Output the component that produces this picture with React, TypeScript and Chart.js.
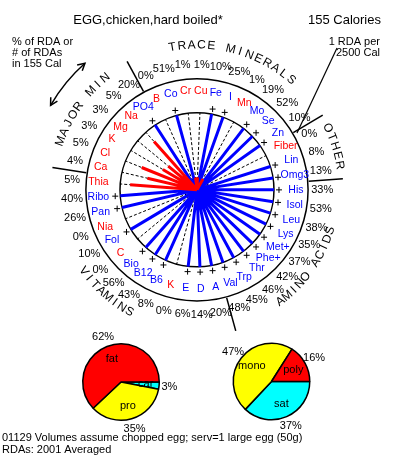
import React, { useEffect, useRef } from 'react';
import { Chart, registerables } from 'chart.js';

Chart.register(...registerables);

// ---------------- data ----------------
const title = 'EGG,chicken,hard boiled*';
const calories = 155;
const rdaCalories = 2500;

// clockwise from 3 o'clock
const nutrientNames = [
  'His', 'Isol', 'Leu', 'Lys', 'Met+', 'Phe+', 'Thr', 'Trp', 'Val',
  'A', 'D', 'E', 'K', 'B6', 'B12', 'Bio', 'C', 'Fol', 'Nia', 'Pan', 'Ribo', 'Thia',
  'Ca', 'Cl', 'K', 'Mg', 'Na', 'PO4',
  'B', 'Co', 'Cr', 'Cu', 'Fe', 'I', 'Mn', 'Mo', 'Se', 'Zn',
  'Fiber', 'Lin', 'Omg3',
];
const nutrientPercents = [
  33, 53, 38, 35, 37, 42, 46, 45, 48,
  20, 14, 6.3, 0, 8, 43, 56, 0, 10, 0, 26, 40, 5.4,
  4.1, 4.8, 3.2, 3, 5.2, 20,
  0, 51, 1, 1, 10, 25, 1, 19, 52, 10,
  0, 8, 13,
];
const sectionNames = ['AMINO ACIDS', 'VITAMINS', 'MAJOR MIN', 'TRACE MINERALS', 'OTHER'];
const sectionCounts = [9, 13, 6, 10, 3];

// pies, clockwise from 3 o'clock
const macroLabels = ['car', 'pro', 'fat'];
const macroPercents = [3, 35, 62];
const fatLabels = ['sat', 'mono', 'poly'];
const fatPercents = [37, 47, 16];

const scaleNoteLines = ['% of RDA or', '# of RDAs', 'in 155 Cal'];
const rdaNoteLines = ['1 RDA per', '2500 Cal'];
const footerLines = ['01129 Volumes assume chopped egg; serv=1 large egg (50g)', 'RDAs: 2001 Averaged'];

// ---------------- layout ----------------
const W = 393;
const H = 457;
const CX = 197;
const CY = 189;
const UNIT = 79; // px per RDA-circle radius
const R_TICK = 1.065;
const R_NAME = 1.285;
const R_OUTER = 1.443;
const R_PCT = 1.627;
const R_BOUND_IN = 1.455;
const R_BOUND_OUT = 1.9;
const R_TITLE_TOP = 1.88;
const R_TITLE_BOT = 1.81;
const R_ARROW = 2.196;
const FONT = "'Liberation Sans', Arial, Helvetica, sans-serif";
const RED = '#ff0000';
const BLUE = '#0000ff';

const N = nutrientNames.length;
const threshold = (calories / rdaCalories) * 100;
const ang = (i: number) => (i * 2 * Math.PI) / N;
const pt = (r: number, t: number) => ({ x: r * Math.cos(t), y: -r * Math.sin(t) });
const gap = () => ({ x: NaN, y: NaN });

function buildSpokes() {
  const blue: any[] = [];
  const red: any[] = [];
  const dash: any[] = [];
  const ticks: any[] = [];
  nutrientPercents.forEach((v, i) => {
    const t = ang(i);
    if (v >= threshold) {
      blue.push(pt(0, t), pt(1, t), gap());
      ticks.push(pt(R_TICK, t));
    } else {
      red.push(pt(0, t), pt(v / threshold, t), gap());
      dash.push(pt(0, t), pt(1, t), gap());
    }
  });
  return { blue, red, dash, ticks };
}

function drawArcText(ctx: CanvasRenderingContext2D, text: string, cx: number, cy: number, r: number, phiC: number, stepPx: number, top: boolean) {
  const n = text.length;
  const d = stepPx / r;
  for (let k = 0; k < n; k++) {
    const off = (k - (n - 1) / 2) * d;
    const phi = top ? phiC + off : phiC - off;
    const x = cx + r * Math.sin(phi);
    const y = cy - r * Math.cos(phi);
    ctx.save();
    ctx.translate(x, y);
    ctx.rotate(top ? phi : phi - Math.PI);
    ctx.fillText(text[k], 0, 0);
    ctx.restore();
  }
}

function arrowHead(ctx: CanvasRenderingContext2D, x: number, y: number, dx: number, dy: number) {
  const a = Math.atan2(dy, dx);
  const L = 8;
  const s = 0.5;
  ctx.beginPath();
  ctx.moveTo(x - L * Math.cos(a - s), y - L * Math.sin(a - s));
  ctx.lineTo(x, y);
  ctx.lineTo(x - L * Math.cos(a + s), y - L * Math.sin(a + s));
  ctx.stroke();
}

const radialPlugin = {
  id: 'radialDecor',
  beforeDatasetsDraw(chart: any) {
    const ctx: CanvasRenderingContext2D = chart.ctx;
    const xs = chart.scales.x;
    const ys = chart.scales.y;
    const cx = xs.getPixelForValue(0);
    const cy = ys.getPixelForValue(0);
    const u = xs.getPixelForValue(1) - cx;
    ctx.save();
    ctx.strokeStyle = '#000';
    ctx.lineWidth = 1.5;
    ctx.beginPath();
    ctx.arc(cx, cy, u, 0, Math.PI * 2);
    ctx.stroke();
    ctx.beginPath();
    ctx.arc(cx, cy, u * R_OUTER, 0, Math.PI * 2);
    ctx.stroke();
    // section boundaries
    let cum = 0;
    ctx.lineWidth = 1.5;
    sectionCounts.forEach((c) => {
      cum += c;
      const t = ang(cum - 0.5);
      ctx.beginPath();
      ctx.moveTo(cx + u * R_BOUND_IN * Math.cos(t), cy + u * R_BOUND_IN * Math.sin(t));
      ctx.lineTo(cx + u * R_BOUND_OUT * Math.cos(t), cy + u * R_BOUND_OUT * Math.sin(t));
      ctx.stroke();
    });
    ctx.restore();
  },
  afterDraw(chart: any) {
    const ctx: CanvasRenderingContext2D = chart.ctx;
    const xs = chart.scales.x;
    const ys = chart.scales.y;
    const cx = xs.getPixelForValue(0);
    const cy = ys.getPixelForValue(0);
    const u = xs.getPixelForValue(1) - cx;
    ctx.save();
    ctx.textAlign = 'center';
    ctx.textBaseline = 'middle';
    // names & percents
    nutrientNames.forEach((name, i) => {
      const t = ang(i);
      const v = nutrientPercents[i];
      ctx.font = `10.5px ${FONT}`;
      ctx.fillStyle = v >= threshold ? BLUE : RED;
      ctx.fillText(name, cx + u * R_NAME * Math.cos(t), cy + u * R_NAME * Math.sin(t));
      ctx.font = `11px ${FONT}`;
      ctx.fillStyle = '#000';
      ctx.fillText(`${Math.round(v)}%`, cx + u * R_PCT * Math.cos(t), cy + u * R_PCT * Math.sin(t));
    });
    // section titles
    ctx.font = `12px ${FONT}`;
    ctx.fillStyle = '#000';
    let start = 0;
    sectionNames.forEach((s, k) => {
      const end = start + sectionCounts[k] - 1;
      const theta = ang((start + end) / 2);
      let phi = theta + Math.PI / 2;
      phi = ((phi % (2 * Math.PI)) + 2 * Math.PI) % (2 * Math.PI);
      const bottom = phi > Math.PI / 2 && phi < (3 * Math.PI) / 2;
      if (bottom) drawArcText(ctx, s, cx, cy, u * R_TITLE_BOT, phi, 8.8, false);
      else drawArcText(ctx, s, cx, cy, u * R_TITLE_TOP, phi, 9.8, true);
      start = end + 1;
    });
    // double arrow
    ctx.strokeStyle = '#000';
    ctx.lineWidth = 1.5;
    const a1 = (210 * Math.PI) / 180;
    const a2 = (228.5 * Math.PI) / 180;
    const ra = u * R_ARROW;
    ctx.beginPath();
    ctx.arc(cx, cy, ra, a1, a2);
    ctx.stroke();
    arrowHead(ctx, cx + ra * Math.cos(a2), cy + ra * Math.sin(a2), -Math.sin(a2), Math.cos(a2));
    arrowHead(ctx, cx + ra * Math.cos(a1), cy + ra * Math.sin(a1), Math.sin(a1), -Math.cos(a1));
    // pointer from "1 RDA per 2500 Cal"
    ctx.lineWidth = 1.2;
    ctx.beginPath();
    ctx.moveTo(337, 48);
    ctx.lineTo(297, 133);
    ctx.stroke();
    // header texts
    ctx.font = `13px ${FONT}`;
    ctx.textAlign = 'center';
    ctx.fillText(title, 148, 20);
    ctx.textAlign = 'left';
    ctx.fillText(`${calories} Calories`, 308, 20);
    ctx.font = `11px ${FONT}`;
    scaleNoteLines.forEach((l, i) => ctx.fillText(l, 12, 42 + i * 11));
    ctx.textAlign = 'right';
    rdaNoteLines.forEach((l, i) => ctx.fillText(l, 380, 42 + i * 11));
    ctx.textAlign = 'left';
    footerLines.forEach((l, i) => ctx.fillText(l, 2, 438 + i * 12));
    ctx.restore();
  },
};

const pieLabelPlugin = {
  id: 'pieLabels',
  afterDatasetsDraw(chart: any) {
    const ctx: CanvasRenderingContext2D = chart.ctx;
    const meta = chart.getDatasetMeta(0);
    const labels = chart.data.labels;
    const values = chart.data.datasets[0].data;
    ctx.save();
    ctx.font = `11px ${FONT}`;
    ctx.fillStyle = '#000';
    ctx.textAlign = 'center';
    ctx.textBaseline = 'middle';
    meta.data.forEach((arc: any, i: number) => {
      const { x, y, startAngle, endAngle, outerRadius } = arc.getProps(['x', 'y', 'startAngle', 'endAngle', 'outerRadius'], true);
      const mid = (startAngle + endAngle) / 2;
      ctx.fillText(labels[i], x + Math.cos(mid) * outerRadius * 0.65, y + Math.sin(mid) * outerRadius * 0.65);
      ctx.fillText(`${values[i]}%`, x + Math.cos(mid) * outerRadius * 1.27, y + Math.sin(mid) * outerRadius * 1.27);
    });
    ctx.restore();
  },
};

function RadialChart() {
  const ref = useRef<HTMLCanvasElement>(null);
  useEffect(() => {
    if (!ref.current) return;
    const s = buildSpokes();
    const lineDs = (data: any[], color: string, width: number, order: number, dash: number[] = []) => ({
      data,
      showLine: true,
      borderColor: color,
      borderWidth: width,
      borderDash: dash,
      borderCapStyle: 'butt',
      pointRadius: 0,
      spanGaps: false,
      fill: false,
      order,
    });
    const chart = new Chart(ref.current, {
      type: 'scatter',
      data: {
        datasets: [
          {
            data: s.ticks,
            pointStyle: 'cross',
            pointRadius: 3,
            pointBorderColor: '#000',
            pointBorderWidth: 1,
            borderColor: '#000',
            showLine: false,
            order: 0,
          } as any,
          lineDs(s.red, RED, 3, 1),
          lineDs(s.blue, BLUE, 3, 2),
          lineDs(s.dash, '#000', 1, 3, [3, 2]),
        ],
      },
      options: {
        responsive: false,
        animation: false,
        events: [],
        layout: { padding: 0 },
        scales: {
          x: { type: 'linear', display: false, min: -CX / UNIT, max: (W - CX) / UNIT },
          y: { type: 'linear', display: false, min: -(H - CY) / UNIT, max: CY / UNIT },
        },
        plugins: { legend: { display: false }, tooltip: { enabled: false }, title: { display: false } },
      },
      plugins: [radialPlugin],
    } as any);
    return () => chart.destroy();
  }, []);
  return <canvas ref={ref} width={W} height={H} style={{ position: 'absolute', left: 0, top: 0, width: W, height: H }} />;
}

function PieChart(props: { labels: string[]; values: number[]; colors: string[]; left: number; top: number; padding: any }) {
  const ref = useRef<HTMLCanvasElement>(null);
  useEffect(() => {
    if (!ref.current) return;
    const chart = new Chart(ref.current, {
      type: 'pie',
      data: {
        labels: props.labels,
        datasets: [{ data: props.values, backgroundColor: props.colors, borderColor: '#000', borderWidth: 1.5 }],
      },
      options: {
        responsive: false,
        animation: false,
        events: [],
        rotation: 90,
        layout: { padding: props.padding },
        plugins: { legend: { display: false }, tooltip: { enabled: false } },
      },
      plugins: [pieLabelPlugin],
    } as any);
    return () => chart.destroy();
  }, []);
  return <canvas ref={ref} width={130} height={120} style={{ position: 'absolute', left: props.left, top: props.top, width: 130, height: 120 }} />;
}

export default function App() {
  return (
    <div style={{ position: 'absolute', left: 0, top: 0, width: W, height: H, background: '#fff', overflow: 'hidden' }}>
      <RadialChart />
      <PieChart
        labels={macroLabels}
        values={macroPercents}
        colors={['#00ffff', '#ffff00', '#ff0000']}
        left={56}
        top={322}
        padding={{ left: 26, right: 26, top: 21, bottom: 21 }}
      />
      <PieChart
        labels={fatLabels}
        values={fatPercents}
        colors={['#00ffff', '#ffff00', '#ff0000']}
        left={206}
        top={321}
        padding={{ left: 26.5, right: 25.5, top: 21.5, bottom: 20.5 }}
      />
    </div>
  );
}
